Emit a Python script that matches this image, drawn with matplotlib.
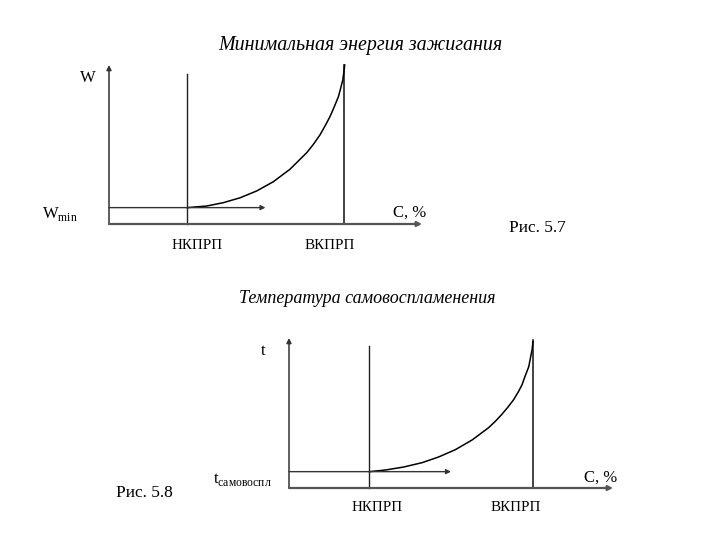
import matplotlib.pyplot as plt
import numpy as np

plt.rcParams['font.family'] = ['Liberation Serif', 'DejaVu Serif']
plt.rcParams['mathtext.fontset'] = 'custom'
plt.rcParams['mathtext.rm'] = 'Liberation Serif'

# boundaries of the flammable range (conventional units along C, %)
nkprp = [2.5, 2.48]
vkprp = [7.52, 7.53]
base_level = [1.03, 1.09]

# curve 5.7: minimum ignition energy W vs concentration
c_energy = [2.50, 3.12, 3.65, 4.19, 4.72, 5.25, 5.78, 6.32, 6.53, 6.74, 6.90, 7.06,
            7.19, 7.33, 7.40, 7.47, 7.52, 7.53]
w_energy = [1.03, 1.13, 1.34, 1.65, 2.08, 2.66, 3.44, 4.49, 5.01, 5.60, 6.16, 6.75,
            7.34, 8.01, 8.53, 9.06, 9.80, 10.0]

# curve 5.8: autoignition temperature t vs concentration
c_temp = [2.48, 2.98, 3.54, 4.11, 4.62, 5.13, 5.65, 6.16, 6.37, 6.57, 6.76, 6.94,
          7.07, 7.19, 7.29, 7.40, 7.50, 7.53]
t_temp = [1.09, 1.20, 1.40, 1.69, 2.07, 2.55, 3.20, 4.02, 4.45, 4.91, 5.40, 5.91,
          6.38, 6.87, 7.47, 8.09, 9.20, 9.75]

titles = ['Минимальная энергия зажигания', 'Температура самовоспламенения']
ylabels = ['W', 't']
base_labels = [r'W$_{\mathrm{min}}$', r't$_{\mathrm{самовоспл}}$']
fig_labels = ['Рис. 5.7', 'Рис. 5.8']

fig = plt.figure(figsize=(7.2, 5.4), dpi=100)


def arrow(ax, x0, y0, x1, y1, col='#222222', lw=1.0):
    ax.annotate('', xy=(x1, y1), xytext=(x0, y0),
                arrowprops=dict(arrowstyle='-|>', color=col, lw=lw,
                                mutation_scale=7, shrinkA=0, shrinkB=0),
                annotation_clip=False)


def diagram(ax, i, c, v, top_n, top_v, ylab_xy, base_x, nk_lab_x, vk_lab_x):
    ax.set_xlim(0, 10)
    ax.set_ylim(0, 10)
    ax.axis('off')
    # оси со стрелками
    arrow(ax, 0, 0, 0, 10, col='#333333', lw=1.1)
    arrow(ax, 0, 0, 10, 0, col='#555555', lw=1.6)
    # границы НКПРП / ВКПРП
    ax.plot([nkprp[i], nkprp[i]], [0, top_n], color='#222222', lw=1.0, clip_on=False)
    ax.plot([vkprp[i], vkprp[i]], [0, top_v], color='#222222', lw=1.2, clip_on=False)
    # линия минимального уровня
    arrow(ax, 0, base_level[i], 5.0, base_level[i], col='#333333', lw=1.0)
    # кривая
    ax.plot(c, v, color='black', lw=1.1, clip_on=False)
    # подписи
    ax.text(ylab_xy[0], ylab_xy[1], ylabels[i], ha='center', va='center', fontsize=12)
    ax.text(base_x, 0.6, base_labels[i], ha='right', va='center', fontsize=12)
    ax.text(9.62, 0.72, 'C, %', ha='center', va='center', fontsize=12)
    ax.text(nk_lab_x, -1.33, 'НКПРП', ha='center', va='center', fontsize=10.8)
    ax.text(vk_lab_x, -1.33, 'ВКПРП', ha='center', va='center', fontsize=10.8)


ax1 = fig.add_axes([109 / 720, 316 / 540, 313 / 720, 159 / 540])
diagram(ax1, 0, c_energy, w_energy, 9.43, 10.0, (-0.67, 9.18), -1.0, 2.81, 7.06)

ax2 = fig.add_axes([289 / 720, 52 / 540, 324 / 720, 150 / 540])
diagram(ax2, 1, c_temp, t_temp, 9.5, 9.87, (-0.80, 9.13), -0.55, 2.72, 7.01)

fig.text(0.5, 0.915, titles[0], ha='center', va='center', fontsize=14.4, style='italic')
fig.text(0.51, 0.448, titles[1], ha='center', va='center', fontsize=13, style='italic')
fig.text(0.747, 0.578, fig_labels[0], ha='center', va='center', fontsize=12.5)
fig.text(0.2, 0.087, fig_labels[1], ha='center', va='center', fontsize=12.5)

fig.savefig('out.png', dpi=100)
